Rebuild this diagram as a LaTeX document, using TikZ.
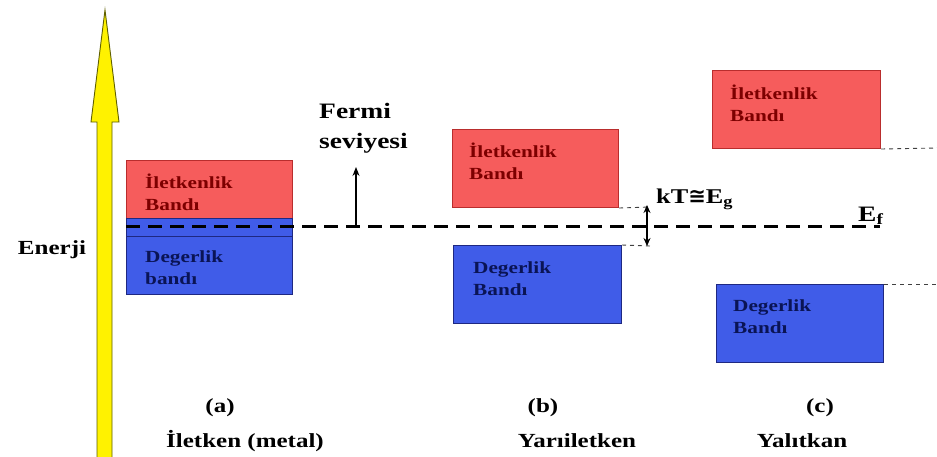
\documentclass[tikz,border=0pt]{standalone}
\usepackage{fontspec}
\setmainfont[FakeStretch=1.25]{Liberation Serif}
\newfontfamily\symbolfont{DejaVu Sans}
\usetikzlibrary{arrows.meta}
\definecolor{bandred}{RGB}{246,92,92}
\definecolor{bandredline}{RGB}{185,45,45}
\definecolor{bandblue}{RGB}{64,92,232}
\definecolor{bandblueline}{RGB}{30,40,130}
\definecolor{redtext}{RGB}{125,0,0}
\definecolor{bluetext}{RGB}{10,20,85}
\definecolor{arrowedge}{RGB}{95,95,0}
\tikzset{
  redband/.style={draw=bandredline, fill=bandred, line width=1pt, anchor=north west, inner sep=0},
  blueband/.style={draw=bandblueline, fill=bandblue, line width=1pt, anchor=north west, inner sep=0},
  bandlabel/.style={anchor=west, align=left, inner sep=0, font=\fontsize{17}{22}\selectfont\bfseries},
  biglabel/.style={font=\fontsize{20}{29}\selectfont\bfseries, inner sep=0, align=center},
  fermilabel/.style={font=\fontsize{22}{30}\selectfont\bfseries, inner sep=0, align=left, anchor=west},
  fermiline/.style={line width=3pt, dash pattern=on 14pt off 8pt},
  dotline/.style={line width=0.9pt, dash pattern=on 4pt off 4pt, black!75},
  thinarrow/.style={line width=1.2pt, -{Stealth[length=9pt,width=7pt]}},
  gaparrow/.style={line width=1.2pt, {Stealth[length=8pt,width=7pt]}-{Stealth[length=8pt,width=7pt]}}
}
\begin{document}
\begin{tikzpicture}[x=1pt,y=-1pt]
\useasboundingbox[fill=white] (0,0) rectangle (937,456);

% energy arrow
\draw[fill=yellow, draw=arrowedge, line width=0.9pt]
  (97,458) -- (97,122) -- (91,122) -- (105,10) -- (119,122) -- (112,122) -- (112,458);
\node[biglabel] (enerji) at (52,250) {Enerji};

% (a) metal
\node[redband, minimum width=166pt, minimum height=58pt] (ca) at (126,160) {};
\node[blueband, minimum width=166pt, minimum height=76pt] (va) at (126,218) {};
\draw[bandblueline, line width=1pt] (va.west |- 0,236) -- (va.east |- 0,236);
\node[bandlabel, text=redtext] (cal) at (145,192) {İletkenlik\\Bandı};
\node[bandlabel, text=bluetext] (val) at (145,268) {Degerlik\\bandı};

% (b) semiconductor
\node[redband, minimum width=166pt, minimum height=78pt] (cb) at (452,129) {};
\node[blueband, minimum width=168pt, minimum height=78pt] (vb) at (453,245) {};
\node[bandlabel, text=redtext] (cbl) at (469,161) {İletkenlik\\Bandı};
\node[bandlabel, text=bluetext] (vbl) at (473,279) {Degerlik\\Bandı};

% (c) insulator
\node[redband, minimum width=168pt, minimum height=78pt] (cc) at (712,70) {};
\node[blueband, minimum width=167pt, minimum height=78pt] (vc) at (716,284) {};
\node[bandlabel, text=redtext] (ccl) at (730,103) {İletkenlik\\Bandı};
\node[bandlabel, text=bluetext] (vcl) at (733,317) {Degerlik\\Bandı};

% Fermi level
\coordinate (fs) at (126,226);
\coordinate (fe) at (880,226);
\draw[fermiline] (fs) -- (fe);
\node[fermilabel] (fermi) at (319,128) {Fermi\\seviyesi};
\coordinate (fb) at (356,225);
\coordinate (ft) at (356,167);
\draw[thinarrow] (fb) -- (ft);
\node[font=\fontsize{22}{24}\selectfont\bfseries, inner sep=0, anchor=base west] (ef) at (858,221) {E\textsubscript{f}};

% gap
\coordinate (gt) at (647,205);
\coordinate (gb) at (647,246);
\coordinate (gtl) at (650,207);
\coordinate (gbl) at (650,246);
\draw[dotline] (cb.south east) -- (gtl);
\draw[dotline] (vb.north east) -- (gbl);
\draw[gaparrow] (gt) -- (gb);
\node[font=\fontsize{21}{24}\selectfont\bfseries, inner sep=0, anchor=base west] (kt) at (656,203) {kT{\symbolfont\bfseries ≅}E\textsubscript{g}};

\coordinate (cce) at (937,148);
\coordinate (vce) at (937,284);
\draw[dotline] (cc.south east) -- (cce);
\draw[dotline] (vc.north east) -- (vce);

% captions
\node[biglabel] (la) at (220,408) {(a)};
\node[biglabel] (ta) at (245,441) {İletken (metal)};
\node[biglabel] (lb) at (543,408) {(b)};
\node[biglabel] (tb) at (577,441) {Yarıiletken};
\node[biglabel] (lc) at (820,408) {(c)};
\node[biglabel] (tc) at (802,441) {Yalıtkan};
\end{tikzpicture}
\end{document}
